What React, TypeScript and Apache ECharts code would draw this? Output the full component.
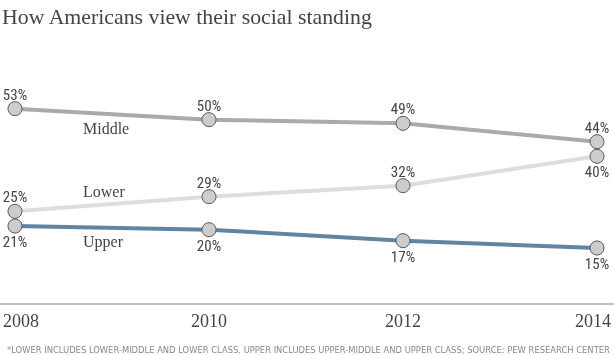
import React, { useEffect, useRef } from "react";
import * as echarts from "echarts";

const years = ["2008", "2010", "2012", "2014"];
const middle = [53, 50, 49, 44];
const lower = [25, 29, 32, 40];
const upper = [21, 20, 17, 15];
const seriesNames = ["Middle", "Lower", "Upper"];
const title = "How Americans view their social standing";
const footnote =
  "*LOWER INCLUDES LOWER-MIDDLE AND LOWER CLASS. UPPER INCLUDES UPPER-MIDDLE AND UPPER CLASS; SOURCE: PEW RESEARCH CENTER";

const valFont = "'Liberation Sans Narrow', 'Roboto Condensed', Roboto, sans-serif";
const serif = "'Liberation Serif', 'Times New Roman', serif";

export default function App() {
  const ref = useRef<HTMLDivElement>(null);
  useEffect(() => {
    const chart = echarts.init(ref.current!, null, { renderer: "svg" });
    const mk = (name: string, data: number[], color: string, pos: string[]) => ({
      type: "line",
      name,
      data: data.map((v, i) => ({
        value: v,
        label: { position: pos[i], distance: pos[i] === "top" ? -1 : 1 },
      })),
      symbol: "circle",
      symbolSize: 14,
      itemStyle: { color: "#cccccc", borderColor: "#555555", borderWidth: 1 },
      lineStyle: { color, width: 4 },
      label: {
        show: true,
        formatter: "{c}%",
        color: "#444",
        fontFamily: valFont,
        fontSize: 15,
      },
      emphasis: { disabled: true },
      z: 3,
    });
    chart.setOption({
      animation: false,
      grid: { left: 14, right: 16, top: 83, bottom: 52 },
      xAxis: {
        type: "category",
        data: years,
        boundaryGap: false,
        axisLine: { show: false },
        axisTick: { show: false },
        axisLabel: {
          color: "#444",
          fontFamily: serif,
          fontSize: 18,
          margin: 9,
          alignMinLabel: "left",
          alignMaxLabel: "right",
          formatter: (v: string, i: number) =>
            i === 0 ? "{l|" + v + "}" : i === years.length - 1 ? "{r|" + v + "}" : v,
          rich: {
            l: { fontFamily: serif, fontSize: 18, color: "#444", padding: [0, 0, 0, -12] },
            r: { fontFamily: serif, fontSize: 18, color: "#444", padding: [0, -14, 0, 0] },
          },
        },
      },
      yAxis: {
        type: "value",
        min: 0,
        max: 60,
        show: false,
        splitLine: { show: false },
      },
      series: [
        mk(seriesNames[0], middle, "#aaaaaa", ["top", "top", "top", "top"]),
        mk(seriesNames[1], lower, "#dddddd", ["top", "top", "top", "bottom"]),
        mk(seriesNames[2], upper, "#5f85a3", ["bottom", "bottom", "bottom", "bottom"]),
      ],
      graphic: [
        {
          type: "text",
          left: 2,
          top: 6,
          style: { text: title, fill: "#444", font: "21.8px " + serif },
        },
        {
          type: "line",
          shape: { x1: 0, y1: 304, x2: 614, y2: 304 },
          style: { stroke: "#aaaaaa", lineWidth: 1.5 },
        },
        {
          type: "text",
          x: 83,
          y: 120,
          style: { text: seriesNames[0], fill: "#444", font: "16px " + serif },
        },
        {
          type: "text",
          x: 83,
          y: 183,
          style: { text: seriesNames[1], fill: "#444", font: "16px " + serif },
        },
        {
          type: "text",
          x: 83,
          y: 233,
          style: { text: seriesNames[2], fill: "#444", font: "16px " + serif },
        },
        {
          type: "text",
          x: 7,
          y: 346,
          style: { text: footnote, fill: "#888", font: "8.4px 'DejaVu Sans', sans-serif" },
        },
      ],
    });
    return () => chart.dispose();
  }, []);
  return <div ref={ref} style={{ width: 614, height: 355, position: "fixed", left: 0, top: 0 }} />;
}
